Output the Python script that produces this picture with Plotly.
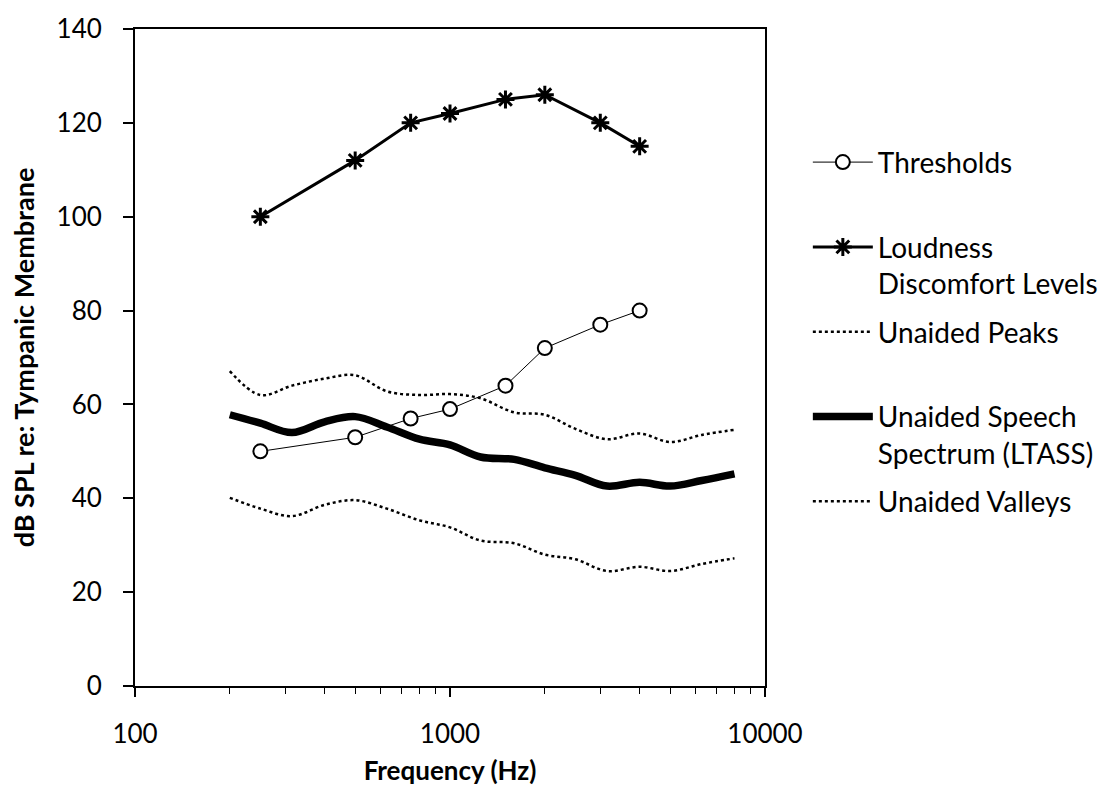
import plotly.graph_objects as go

# ---- data ----
audiometric_freqs = [250, 500, 750, 1000, 1500, 2000, 3000, 4000]
thresholds = [50, 53, 57, 59, 64, 72, 77, 80]
ldl = [100, 112, 120, 122, 125, 126, 120, 115]

band_freqs = [200, 250, 315, 400, 500, 630, 800, 1000, 1250, 1600,
              2000, 2500, 3150, 4000, 5000, 6300, 8000]
peaks = [67.1, 62.0, 64.0, 65.5, 66.2, 62.8, 62.0, 62.2, 61.3, 58.3,
         57.8, 54.8, 52.6, 53.8, 52.0, 53.5, 54.6]
ltass = [57.8, 56.0, 54.0, 56.3, 57.4, 55.2, 52.6, 51.4, 48.8, 48.3,
         46.5, 44.9, 42.6, 43.4, 42.6, 43.8, 45.2]
valleys = [40.1, 37.8, 36.2, 38.6, 39.6, 37.8, 35.3, 33.8, 31.0, 30.4,
           28.0, 27.0, 24.5, 25.4, 24.5, 26.0, 27.2]

x_tickvals = [100, 1000, 10000]
x_ticktext = ["100", "1000", "10000"]
y_tickvals = [0, 20, 40, 60, 80, 100, 120, 140]

FONT = "Lato"
fig = go.Figure()

fig.add_trace(go.Scatter(
    x=audiometric_freqs, y=thresholds, mode="lines+markers",
    name="Thresholds<br> ",
    line=dict(color="black", width=1),
    marker=dict(symbol="circle", size=14, color="white",
                line=dict(color="black", width=2)),
    legendgroup="a"))
fig.add_trace(go.Scatter(
    x=audiometric_freqs, y=ldl, mode="lines+markers",
    name="Loudness<br>Discomfort Levels",
    line=dict(color="black", width=3),
    marker=dict(symbol="asterisk-open", size=15, color="black",
                line=dict(color="black", width=3)),
    legendgroup="b"))
fig.add_trace(go.Scatter(
    x=band_freqs, y=peaks, mode="lines", name="Unaided Peaks<br> ",
    line=dict(color="black", width=2.5, dash="dot", shape="spline"),
    legendgroup="c"))
fig.add_trace(go.Scatter(
    x=band_freqs, y=ltass, mode="lines",
    name="Unaided Speech<br>Spectrum (LTASS)",
    line=dict(color="black", width=7.5, shape="spline"),
    legendgroup="d"))
fig.add_trace(go.Scatter(
    x=band_freqs, y=valleys, mode="lines", name="Unaided Valleys<br> ",
    line=dict(color="black", width=2.5, dash="dot", shape="spline"),
    legendgroup="e"))

fig.update_layout(
    width=1116, height=798,
    margin=dict(l=135, r=351, t=23, b=112),
    paper_bgcolor="white", plot_bgcolor="white",
    font=dict(family=FONT, size=26, color="black"),
    showlegend=True,
    legend=dict(x=1.068, y=0.835, xanchor="left", yanchor="top",
                valign="top", tracegroupgap=9, itemwidth=60,
                font=dict(family=FONT, size=28, color="black"),
                bgcolor="rgba(0,0,0,0)"),
    xaxis=dict(type="log", range=[2, 4],
               tickmode="array", tickvals=x_tickvals, ticktext=x_ticktext,
               showline=True, linecolor="black", linewidth=2, mirror=True,
               ticks="outside", ticklen=9, tickwidth=1.5, tickcolor="black",
               ticklabelstandoff=15,
               showgrid=False, zeroline=False,
               minor=dict(ticks="outside", ticklen=6, tickwidth=1,
                          tickcolor="black", showgrid=False, dtick="D1"),
               tickfont=dict(family=FONT, size=26),
               title=dict(text="<b>Frequency (Hz)</b>", standoff=14,
                          font=dict(family=FONT, size=26))),
    yaxis=dict(range=[0, 140], tickmode="array", tickvals=y_tickvals,
               showline=True, linecolor="black", linewidth=2, mirror=True,
               ticks="outside", ticklen=10, tickwidth=1.5, tickcolor="black",
               ticklabelstandoff=16,
               showgrid=False, zeroline=False,
               tickfont=dict(family=FONT, size=26),
               title=dict(text="<b>dB SPL re: Tympanic Membrane</b>", standoff=14,
                          font=dict(family=FONT, size=27))),
)

fig.write_html("out.html")
